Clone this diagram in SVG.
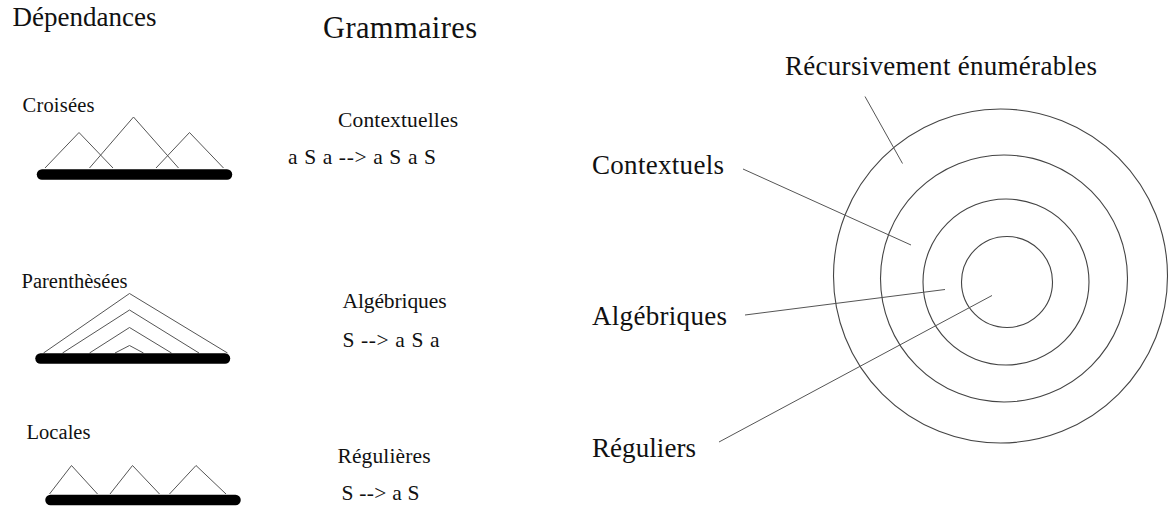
<svg xmlns="http://www.w3.org/2000/svg" width="1169" height="506" viewBox="0 0 1169 506">
<style>
.t{font-family:"Liberation Serif","Times New Roman",serif;fill:#111}
.big{font-size:27px}
.small{font-size:20.5px}
.g{font-size:21.5px}
.thin{fill:none;stroke:#555;stroke-width:1}
.bar{stroke:#000;stroke-width:10.5;stroke-linecap:round}
.ring{fill:none;stroke:#444;stroke-width:1.1}
</style>
<rect width="1169" height="506" fill="#fff"/>
<g id="title-dependances"><text class="t big" x="12.5" y="26" textLength="144">Dépendances</text></g>
<g id="title-grammaires"><text class="t" x="323" y="38" font-size="30.5" textLength="154">Grammaires</text></g>

<g id="dep-croisees">
<text class="t small" x="22.5" y="111.5" textLength="72">Croisées</text>
<polyline class="thin" points="45,168 79,132.5 113,168"/>
<polyline class="thin" points="89.5,168 133.5,117 178.5,168"/>
<polyline class="thin" points="156,168 189.5,132.5 223.5,168"/>
<line class="bar" x1="42" y1="174.5" x2="227" y2="174.5"/>
</g>

<g id="dep-parenthesees">
<text class="t small" x="21.5" y="288" textLength="106">Parenthèsées</text>
<polyline class="thin" points="43.5,353 129.5,293.5 227.5,353"/>
<polyline class="thin" points="62.5,353 129.5,310 199,353"/>
<polyline class="thin" points="89.5,353 129.5,327.5 171.5,353"/>
<polyline class="thin" points="115,353 129.5,345.5 143.5,353"/>
<line class="bar" x1="40.5" y1="358.5" x2="225" y2="358.5"/>
</g>

<g id="dep-locales">
<text class="t small" x="26.5" y="438.5" textLength="64">Locales</text>
<polyline class="thin" points="49.5,494 71.5,465.5 97.5,494"/>
<polyline class="thin" points="110,494 132.5,465.5 159.5,494"/>
<polyline class="thin" points="169.5,494 196,465.5 226,494"/>
<line class="bar" x1="50.5" y1="500" x2="235.5" y2="500"/>
</g>

<g id="gram-contextuelles">
<text class="t g" x="338" y="127" textLength="120">Contextuelles</text>
<text class="t g" x="288" y="164" textLength="148">a S a --&gt; a S a S</text>
</g>
<g id="gram-algebriques">
<text class="t g" x="342.5" y="308" textLength="104">Algébriques</text>
<text class="t g" x="342.5" y="346.5" textLength="97">S --&gt; a S a</text>
</g>
<g id="gram-regulieres">
<text class="t g" x="337.5" y="463" textLength="93">Régulières</text>
<text class="t g" x="341.5" y="500" textLength="78">S --&gt; a S</text>
</g>

<g id="ring-recursivement"><circle class="ring" cx="1000.5" cy="276" r="167"/></g>
<g id="ring-contextuels"><circle class="ring" cx="1004" cy="278.5" r="123.5"/></g>
<g id="ring-algebriques"><circle class="ring" cx="1006" cy="282" r="83"/></g>
<g id="ring-reguliers"><circle class="ring" cx="1007" cy="282" r="45.5"/></g>

<g id="label-recursivement"><text class="t big" x="785" y="75" font-size="27.5" textLength="312">Récursivement énumérables</text></g>
<g id="label-contextuels"><text class="t big" x="592" y="174" textLength="132">Contextuels</text></g>
<g id="label-algebriques"><text class="t big" x="592" y="325" textLength="135">Algébriques</text></g>
<g id="label-reguliers"><text class="t big" x="592" y="457" textLength="104">Réguliers</text></g>

<g id="connectors">
<line class="thin" x1="865" y1="96.5" x2="902.5" y2="163.5"/>
<line class="thin" x1="743" y1="169" x2="911" y2="245"/>
<line class="thin" x1="745" y1="315" x2="945" y2="289.5"/>
<line class="thin" x1="719" y1="442" x2="992" y2="295.5"/>
</g>
</svg>
